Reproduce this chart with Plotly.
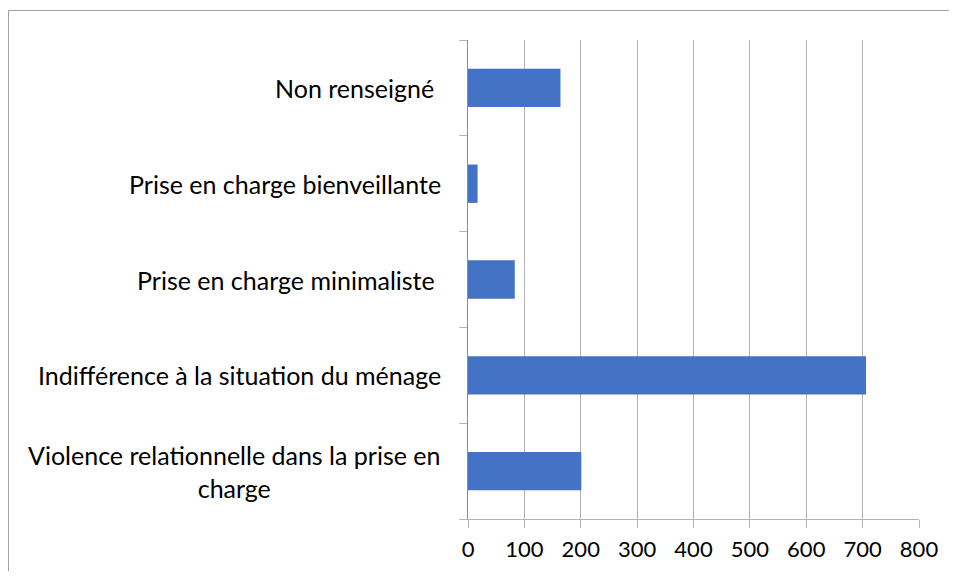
"""Horizontal bar chart: types de prise en charge."""

import plotly.graph_objects as go

# categories listed top to bottom, as in the chart
CATEGORIES = [
    "Non renseigné ",
    "Prise en charge bienveillante",
    "Prise en charge minimaliste ",
    "Indifférence à la situation du ménage",
    "Violence relationnelle dans la prise en<br>charge",
]
VALUES = [164, 17, 83, 706, 201]
X_TICKS = [0, 100, 200, 300, 400, 500, 600, 700, 800]

FONT = "Lato"
BAR_COLOR = "#4472C4"
GRID_COLOR = "#b3b3b3"
AXIS_COLOR = "#8c8c8c"

# the page body has an 8px margin, so the figure is a bit smaller than the window
W, H = 941, 563
L, R, T, B = 460, 30, 32, 52

figure = go.Figure()
figure.add_trace(
    go.Bar(
        x=VALUES,
        y=CATEGORIES,
        orientation="h",
        marker=dict(color=BAR_COLOR, line=dict(width=0)),
        hoverinfo="x+y",
    )
)

pw = W - L - R
ph = H - T - B

# category labels as annotations so the wrapped one can be centred
annotations = []
for cat in CATEGORIES:
    label = cat.rstrip(" ") + ("\u00a0" if cat.endswith(" ") else "")
    annotations.append(
        dict(
            x=-25 / pw,
            y=cat,
            xref="paper",
            yref="y",
            text=label,
            showarrow=False,
            xanchor="right",
            yanchor="middle",
            align="center",
            font=dict(family=FONT, size=25, color="#000000"),
        )
    )

frame_x = (0.5 - L) / pw
frame_y = 1 + (T - 2.5) / ph

figure.update_layout(
    width=W,
    height=H,
    margin=dict(l=L, r=R, t=T, b=B, autoexpand=False),
    paper_bgcolor="white",
    plot_bgcolor="white",
    showlegend=False,
    bargap=0.6,
    font=dict(family=FONT, size=24, color="#000000"),
    annotations=annotations,
    shapes=[
        dict(type="line", xref="paper", yref="paper", x0=frame_x, x1=frame_x,
             y0=frame_y, y1=-0.5, line=dict(color="#a0a0a0", width=1)),
        dict(type="line", xref="paper", yref="paper", x0=frame_x, x1=1.5,
             y0=frame_y, y1=frame_y, line=dict(color="#a0a0a0", width=1)),
    ],
    xaxis=dict(
        range=[0, 800],
        tickvals=X_TICKS,
        ticktext=[str(v) for v in X_TICKS],
        showgrid=True,
        gridcolor=GRID_COLOR,
        gridwidth=1,
        zeroline=False,
        showline=True,
        linecolor=GRID_COLOR,
        linewidth=1,
        ticks="outside",
        ticklen=8,
        tickcolor=GRID_COLOR,
        ticklabelstandoff=3,
        tickfont=dict(family=FONT, size=22, color="#000000"),
        automargin=False,
        fixedrange=True,
    ),
    yaxis=dict(
        type="category",
        categoryorder="array",
        categoryarray=CATEGORIES[::-1],
        showticklabels=False,
        showgrid=False,
        zeroline=False,
        showline=True,
        linecolor=AXIS_COLOR,
        linewidth=1,
        ticks="outside",
        tickson="boundaries",
        ticklen=8,
        tickcolor=GRID_COLOR,
        automargin=False,
        fixedrange=True,
    ),
)

figure.write_html("out.html")
